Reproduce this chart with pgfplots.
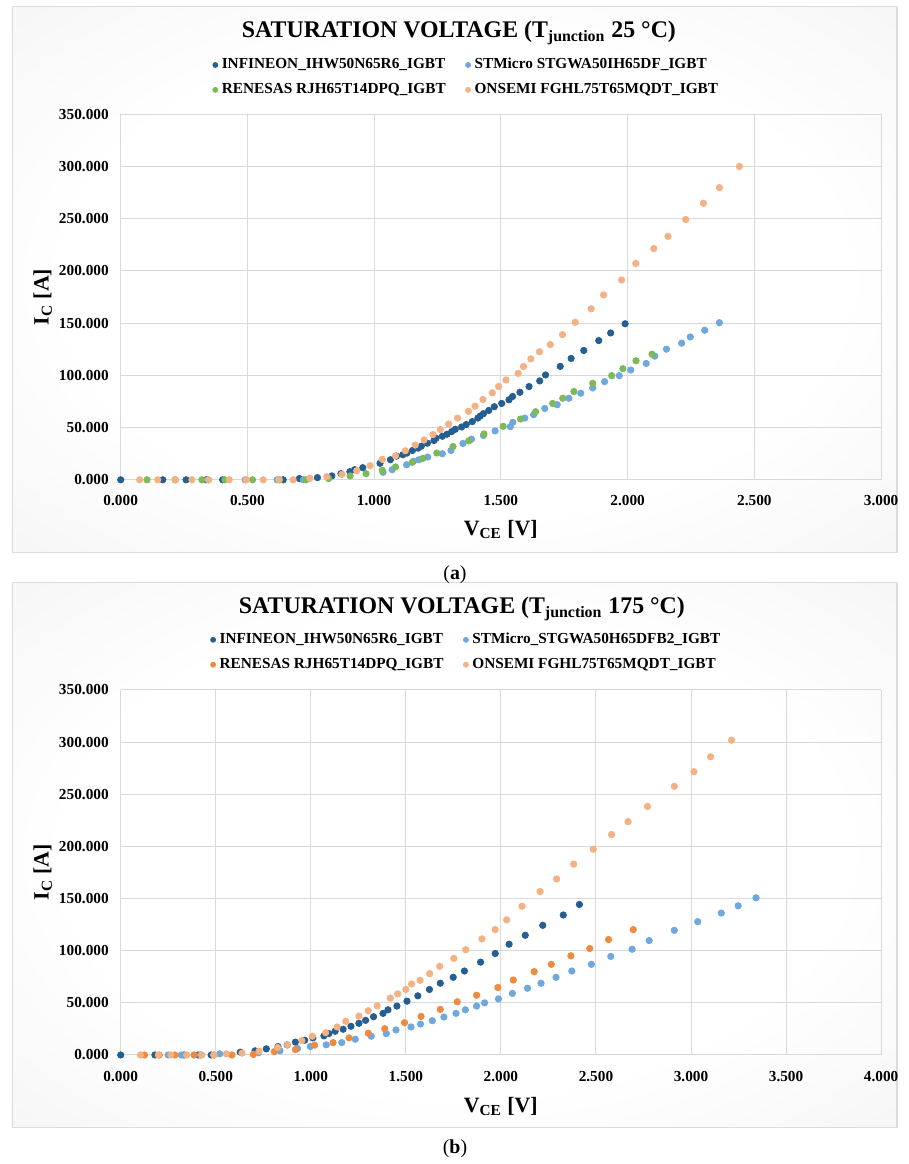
\documentclass[border=0pt]{standalone}
\usepackage{fontspec}
\setmainfont{Liberation Serif}
\usepackage{pgfplots}
\pgfplotsset{compat=1.18}
\definecolor{cinf}{HTML}{255E91}
\definecolor{cstm}{HTML}{6FA8DC}
\definecolor{cren}{HTML}{7CBA58}
\definecolor{cons}{HTML}{F4B183}
\definecolor{cren2}{HTML}{EF8A3E}
\definecolor{gridc}{HTML}{D9D9D9}
\definecolor{boxc}{HTML}{DCDCDC}
\pgfdeclareradialshading{boxshade}{\pgfpoint{0bp}{0bp}}{color(0bp)=(white); color(22bp)=(white); color(50bp)=(black!7); color(72bp)=(black!11)}

\pgfplotsset{
  satax/.style={
    scale only axis,
    width=382.75pt,
    anchor=south west,
    clip=false,
    enlargelimits=false,
    xmin=0, ymin=0, ymax=350,
    ytick={0,50,100,150,200,250,300,350},
    grid=major,
    major grid style={color=gridc, line width=0.5pt},
    axis line style={draw=none},
    major tick length=0pt,
    tick style={draw=none},
    /pgf/number format/assume math mode=true,
    /pgf/number format/.cd, fixed, fixed zerofill, precision=3, 1000 sep={},
    /pgfplots/.cd,
    tick label style={font=\bfseries\fontsize{7.7}{9}\selectfont, text=black},
    yticklabel style={xshift=-2.5pt},
    xticklabel style={yshift=-4.5pt},
    legend columns=2,
    legend cell align=left,
    legend style={anchor=center, draw=none, fill=none, inner sep=0pt,
      font=\bfseries\fontsize{7.7}{9}\selectfont, row sep=1.8pt,
      /tikz/every even column/.append style={column sep=8pt}},
    legend image code/.code={\draw[#1, mark size=1.25pt] plot coordinates {(0.08cm,0cm)};},
    every axis plot/.append style={only marks, mark=*, mark size=1.6pt},
  }
}

\begin{document}
\begin{tikzpicture}[x=0.5pt,y=0.5pt]
\path (0,0) rectangle (915,1164);
\shade[shading=boxshade] (12.3,608) rectangle (903,1157.3);
\draw[boxc, line width=0.6pt] (12.3,608) rectangle (903,1157.3);
\shade[shading=boxshade] (12.3,29) rectangle (903,578);
\draw[boxc, line width=0.6pt] (12.3,29) rectangle (903,578);

% ---------------- panel (a)
\begin{axis}[satax, at={(60.75pt,340.5pt)}, height=184pt, xmax=3,
  xtick={0,0.5,1,1.5,2,2.5,3},
  legend style={at={(0.456,1.101)}}]
\addplot[color=cinf, mark options={fill=cinf, draw=cinf}] coordinates {
(0,0) (0.166,0) (0.258,0) (0.337,0) (0.402,0) (0.641,0) (0.705,1.2) (0.776,2.1)
(0.833,3.7) (0.869,5.9) (0.904,7.8) (0.923,9.7) (0.955,11.6) (1.023,15.8) (1.064,19.2)
(1.088,22.7) (1.113,24.0) (1.129,25.6) (1.151,28.1) (1.173,30.3) (1.186,32.2) (1.210,35.1)
(1.236,37.6) (1.244,39.8) (1.269,41.7) (1.287,43.6) (1.306,46.2) (1.320,48.4) (1.345,50.6)
(1.363,52.9) (1.387,55.7) (1.409,59.1) (1.418,61.0) (1.431,63.3) (1.452,66.4) (1.474,70.0)
(1.503,73.1) (1.532,76.6) (1.546,79.8) (1.575,83.8) (1.611,89.3) (1.653,94.7) (1.676,100.4)
(1.734,108.6) (1.777,116.2) (1.827,123.8) (1.886,133.3) (1.933,140.6) (1.990,149.4)
};
\addlegendentry{INFINEON\_IHW50N65R6\_IGBT}
\addplot[color=cstm, mark options={fill=cstm, draw=cstm}] coordinates {
(0.215,0) (0.346,0) (0.491,0) (0.617,0) (0.721,0) (1.035,7.2) (1.071,9.7) (1.128,14.4)
(1.155,17.7) (1.176,19.2) (1.211,21.8) (1.269,24.9) (1.303,28.1) (1.350,34.8) (1.384,38.9)
(1.431,42.4) (1.477,46.8) (1.537,50.9) (1.547,55.0) (1.594,59.1) (1.629,62.4) (1.673,68.3)
(1.722,71.9) (1.768,78.1) (1.815,82.9) (1.862,88.0) (1.909,94.0) (1.967,99.7) (2.012,105.1)
(2.073,111.4) (2.107,118.4) (2.153,125.1) (2.213,130.8) (2.247,136.8) (2.304,143.2) (2.362,150.4)
};
\addlegendentry{STMicro STGWA50IH65DF\_IGBT}
\addplot[color=cren, mark options={fill=cren, draw=cren}] coordinates {
(0.104,0) (0.215,0) (0.320,0) (0.411,0) (0.520,0) (0.627,0) (0.731,0) (0.820,1.2)
(0.905,3.7) (0.968,5.9) (1.032,9.1) (1.084,12.3) (1.150,16.7) (1.192,20.5) (1.247,25.6)
(1.311,31.9) (1.373,37.3) (1.433,43.9) (1.509,51.2) (1.577,58.2) (1.637,65.2) (1.704,73.1)
(1.744,78.1) (1.788,84.5) (1.862,92.4) (1.937,99.7) (1.981,106.4) (2.033,114.0) (2.096,120.3)
};
\addlegendentry{RENESAS RJH65T14DPQ\_IGBT}
\addplot[color=cons, mark options={fill=cons, draw=cons}] coordinates {
(0.075,0) (0.146,0) (0.215,0) (0.281,0) (0.346,0) (0.428,0) (0.495,0) (0.562,0) (0.624,0)
(0.680,0) (0.746,1.5) (0.813,3.0) (0.873,5.3) (0.931,8.7) (0.984,13.5) (1.032,19.6)
(1.084,23.0) (1.123,27.8) (1.162,33.2) (1.197,38.2) (1.232,43.3) (1.261,48.1) (1.294,53.4)
(1.329,59.1) (1.372,65.5) (1.398,70.5) (1.429,76.9) (1.466,83.3) (1.491,89.3) (1.520,95.6)
(1.568,101.9) (1.589,108.5) (1.618,115.8) (1.652,122.6) (1.695,129.5) (1.743,139.0)
(1.793,150.8) (1.856,163.7) (1.905,177.0) (1.976,191.3) (2.032,207.1) (2.103,221.4)
(2.159,233.1) (2.229,249.2) (2.299,264.8) (2.362,279.7) (2.441,300.0)
};
\addlegendentry{ONSEMI FGHL75T65MQDT\_IGBT}
\end{axis}

% ---------------- panel (b)
\begin{axis}[satax, at={(60.75pt,51pt)}, height=183.75pt, xmax=4,
  xtick={0,0.5,1,1.5,2,2.5,3,3.5,4},
  legend style={at={(0.456,1.1035)}}]
\addplot[color=cinf, mark options={fill=cinf, draw=cinf}] coordinates {
(0,0) (0.180,0) (0.333,0) (0.408,0) (0.476,0) (0.629,2.7) (0.707,4.0) (0.766,5.9)
(0.827,8.1) (0.876,9.7) (0.919,12.3) (0.968,14.2) (1.011,16.4) (1.069,18.3) (1.095,20.5)
(1.128,22.8) (1.170,24.7) (1.211,27.5) (1.253,30.4) (1.288,33.2) (1.330,36.7) (1.380,39.9)
(1.406,43.3) (1.453,46.9) (1.506,51.6) (1.563,56.7) (1.624,62.8) (1.681,68.8) (1.749,74.5)
(1.808,80.5) (1.893,89.0) (1.970,97.3) (2.043,106.2) (2.128,114.8) (2.220,124.3)
(2.328,134.2) (2.413,144.3)
};
\addlegendentry{INFINEON\_IHW50N65R6\_IGBT}
\addplot[color=cstm, mark options={fill=cstm, draw=cstm}] coordinates {
(0.250,0) (0.319,0) (0.420,0) (0.521,1.1) (0.725,2.1) (0.838,4.0) (0.930,6.2) (0.997,8.1)
(1.081,9.7) (1.163,11.9) (1.234,15.1) (1.318,18.0) (1.397,20.5) (1.448,24.0) (1.527,26.9)
(1.577,29.7) (1.639,32.9) (1.700,36.4) (1.764,39.9) (1.813,43.3) (1.872,46.9) (1.914,50.0)
(1.987,53.8) (2.060,59.0) (2.140,64.0) (2.211,68.8) (2.290,74.5) (2.373,80.5) (2.476,86.9)
(2.578,94.5) (2.690,101.4) (2.780,109.7) (2.912,119.5) (3.035,127.8) (3.159,136.1)
(3.248,143.0) (3.342,150.7)
};
\addlegendentry{STMicro\_STGWA50H65DFB2\_IGBT}
\addplot[color=cren2, mark options={fill=cren2, draw=cren2}] coordinates {
(0.125,0) (0.203,0) (0.285,0) (0.386,0) (0.490,0) (0.585,0) (0.698,0.5) (0.808,3.3)
(0.919,5.2) (1.020,9.4) (1.117,11.9) (1.201,16.4) (1.302,20.9) (1.389,25.2) (1.493,31.0)
(1.580,37.0) (1.681,43.7) (1.770,51.0) (1.872,57.3) (1.984,64.7) (2.065,71.9) (2.175,79.9)
(2.265,86.9) (2.368,95.1) (2.467,102.1) (2.566,110.7) (2.696,120.2)
};
\addlegendentry{RENESAS RJH65T14DPQ\_IGBT}
\addplot[color=cons, mark options={fill=cons, draw=cons}] coordinates {
(0.104,0) (0.198,0) (0.264,0) (0.347,0) (0.426,0) (0.490,0) (0.556,1.1) (0.638,1.8)
(0.728,3.7) (0.825,7.2) (0.878,9.7) (0.953,13.8) (1.008,18.0) (1.078,21.4) (1.138,26.9)
(1.184,32.3) (1.253,37.3) (1.302,42.4) (1.349,47.1) (1.418,54.5) (1.457,58.6) (1.500,62.8)
(1.530,68.1) (1.575,71.6) (1.625,78.0) (1.678,85.0) (1.752,92.6) (1.815,100.9) (1.900,111.3)
(1.970,120.2) (2.030,129.5) (2.111,142.6) (2.206,156.7) (2.293,168.8) (2.383,183.0)
(2.486,197.3) (2.582,211.3) (2.669,223.7) (2.771,238.3) (2.912,257.6) (3.015,271.6)
(3.103,285.9) (3.213,301.8)
};
\addlegendentry{ONSEMI FGHL75T65MQDT\_IGBT}
\end{axis}

% ---------------- texts
\node[font=\bfseries\fontsize{12}{14}\selectfont] at (462,1131) {SATURATION VOLTAGE (T\textsubscript{junction} 25 °C)};
\node[font=\bfseries\fontsize{12}{14}\selectfont] at (465,551) {SATURATION VOLTAGE (T\textsubscript{junction} 175 °C)};
\node[font=\bfseries\fontsize{11}{13}\selectfont, rotate=90] at (43,865) {I\textsubscript{C} [A]};
\node[font=\bfseries\fontsize{11}{13}\selectfont, rotate=90] at (43,286) {I\textsubscript{C} [A]};
\node[font=\bfseries\fontsize{11}{13}\selectfont] at (504,631) {V\textsubscript{CE} [V]};
\node[font=\bfseries\fontsize{11}{13}\selectfont] at (504,50) {V\textsubscript{CE} [V]};
\node[font=\fontsize{10}{12}\selectfont] at (458,585) {(\textbf{a})};
\node[font=\fontsize{10}{12}\selectfont] at (458,8) {(\textbf{b})};
\end{tikzpicture}
\end{document}
